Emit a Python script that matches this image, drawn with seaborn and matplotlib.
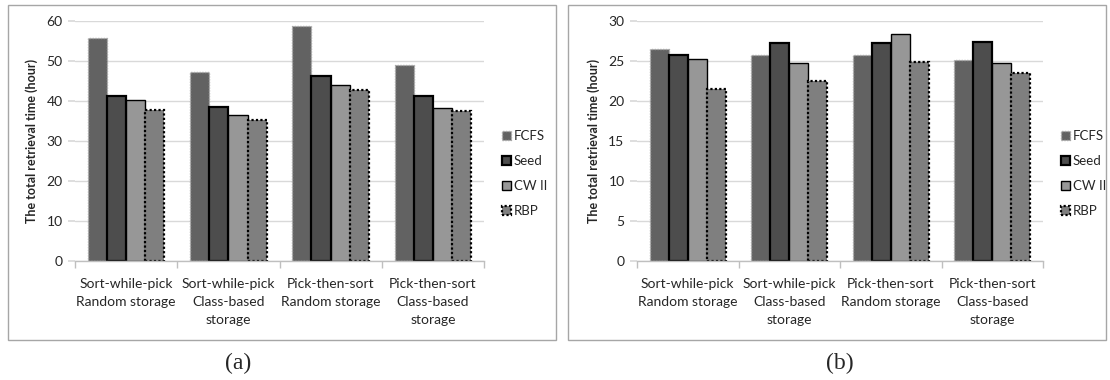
import matplotlib
matplotlib.use("Agg")
import matplotlib.pyplot as plt
import seaborn as sns
import pandas as pd
from matplotlib.patches import Rectangle

categories = ["Sort-while-pick\nRandom storage", "Sort-while-pick\nClass-based\nstorage",
              "Pick-then-sort\nRandom storage", "Pick-then-sort\nClass-based\nstorage"]
methods = ["FCFS", "Seed", "CW II", "RBP"]

# panel (a)
a_fcfs = [55.8, 47.3, 58.7, 49.1]
a_seed = [41.2, 38.4, 46.3, 41.2]
a_cw2 = [40.3, 36.4, 44.1, 38.2]
a_rbp = [37.8, 35.3, 42.8, 37.6]
# panel (b)
b_fcfs = [26.5, 25.8, 25.7, 25.15]
b_seed = [25.7, 27.2, 27.3, 27.4]
b_cw2 = [25.2, 24.8, 28.4, 24.7]
b_rbp = [21.5, 22.55, 24.9, 23.5]

ylabel = "The total retrieval time (hour)"

def make_df(series):
    rows = []
    for m, vals in zip(methods, series):
        for c, v in zip(categories, vals):
            rows.append({"cat": c, "method": m, "value": v})
    return pd.DataFrame(rows)

df_a = make_df([a_fcfs, a_seed, a_cw2, a_rbp])
df_b = make_df([b_fcfs, b_seed, b_cw2, b_rbp])

sns.set_theme(style="white")
plt.rcParams["font.family"] = ["Lato", "DejaVu Sans"]

colors = {"FCFS": "#626262", "Seed": "#4d4d4d", "CW II": "#979797", "RBP": "#7f7f7f"}
edge = {"FCFS": ("#a8a8a8", 1.0, (0, (1, 1))),
        "Seed": ("#000000", 1.6, "solid"),
        "CW II": ("#000000", 1.0, "solid"),
        "RBP": ("#000000", 1.6, (0, (1, 1)))}

fig = plt.figure(figsize=(11.1, 3.8), dpi=100)

# panel frames
for x0, x1 in [(8, 556), (568, 1106)]:
    fig.patches.append(Rectangle((x0 / 1110, 1 - 340 / 380), (x1 - x0) / 1110, (340 - 5) / 380,
                                 transform=fig.transFigure, fill=False,
                                 edgecolor="#a6a6a6", linewidth=1.0))

specs = [(df_a, 75, 484, 60, 10, "(a)", 238, 502),
         (df_b, 637, 1043, 30, 5, "(b)", 840, 1061)]

for df, xl, xr, ymax, step, cap, capx, legx in specs:
    ax = fig.add_axes([xl / 1110, 1 - 261 / 380, (xr - xl) / 1110, (261 - 21) / 380])
    sns.barplot(data=df, x="cat", y="value", hue="method", hue_order=methods,
                order=categories, palette=colors, width=0.75, saturation=1,
                ax=ax, legend=False)
    for m, cont in zip(methods, ax.containers):
        ec, lw, ls = edge[m]
        for p in cont.patches:
            p.set_edgecolor(ec)
            p.set_linewidth(lw)
            p.set_linestyle(ls)
    ax.set_ylim(0, ymax)
    ax.set_xlim(-0.5, 3.5)
    ax.set_yticks(range(0, ymax + 1, step))
    ax.yaxis.grid(True, color="#d9d9d9", linewidth=1.0)
    ax.set_axisbelow(True)
    for s in ["top", "right", "left"]:
        ax.spines[s].set_visible(False)
    ax.spines["bottom"].set_color("#bfbfbf")
    ax.spines["bottom"].set_linewidth(1.0)
    ax.set_xlabel("")
    ax.set_ylabel(ylabel, fontsize=9, fontweight="bold", labelpad=6)
    ax.tick_params(axis="x", which="major", length=0, pad=12, labelsize=10)
    ax.set_xticks([-0.5, 0.5, 1.5, 2.5, 3.5], minor=True)
    ax.tick_params(axis="x", which="minor", length=5, color="#bfbfbf", direction="out", bottom=True)
    ax.tick_params(axis="y", length=5, color="#d9d9d9", labelsize=10, left=True, pad=4)
    for t in ax.get_xticklabels():
        t.set_linespacing(1.6)
        t.set_horizontalalignment("center")
    handles = [cont.patches[0] for cont in ax.containers]
    ax.legend(handles, methods, loc="upper left",
              bbox_to_anchor=(legx / 1110, 1 - 130 / 380), bbox_transform=fig.transFigure,
              frameon=False, fontsize=9.5, handlelength=0.65, handleheight=0.65,
              handletextpad=0.25, labelspacing=0.98, borderaxespad=0, borderpad=0)
    fig.text(capx / 1110, 1 - 363 / 380, cap, ha="center", va="center",
             fontsize=17, family=["Liberation Serif", "DejaVu Serif"])

fig.savefig("out.png", dpi=100)
